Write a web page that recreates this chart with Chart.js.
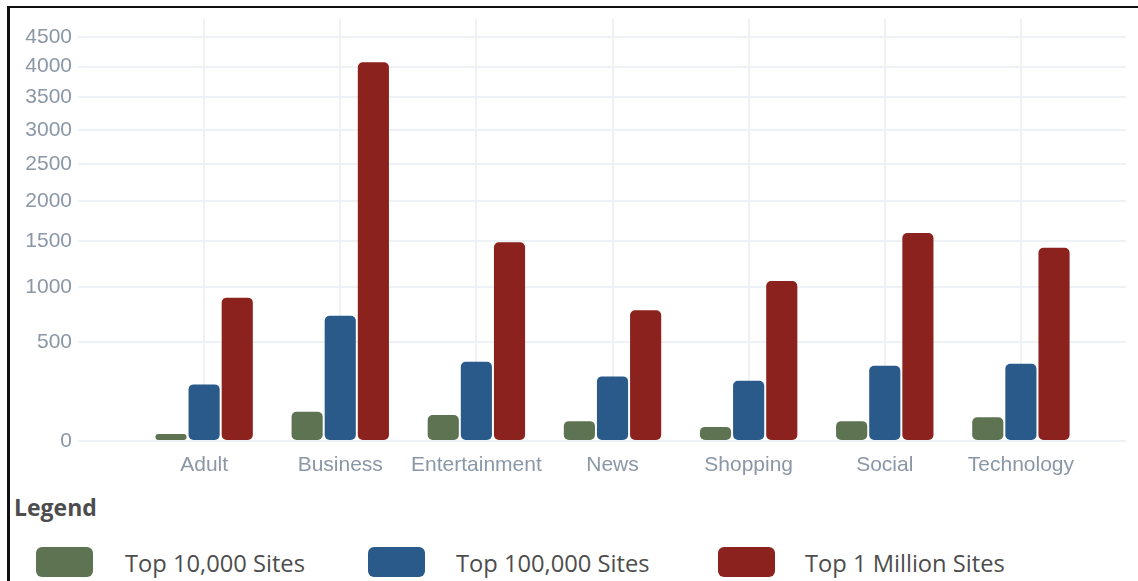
<!DOCTYPE html>
<html>
<head>
<meta charset="utf-8">
<script src="https://cdn.jsdelivr.net/npm/chart.js@4"></script>
<style>
    body { margin: 0; background: #fff; overflow: hidden; }
    #frame {
        position: absolute; left: 7px; top: 6px; width: 1128px; height: 620px;
        border-left: 3px solid #111; border-top: 2px solid #111; border-right: 1px solid #999;
    }
    #wrap { position: absolute; left: 0; top: 0; width: 1138px; height: 482px; }
    #legend-title {
        position: absolute; left: 14px; top: 491px;
        font: bold 23px "Open Sans", sans-serif; color: #4d4d4d;
    }
    .item { position: absolute; top: 547px; height: 30px; }
    .swatch { position: absolute; left: 0; top: 0; width: 57px; height: 30px; border-radius: 6px; }
    .label {
        position: absolute; top: 0; line-height: 32px; white-space: nowrap;
        font: 23.7px "Open Sans", sans-serif; color: #4d4d4d;
    }
</style>
</head>
<body>
<div id="frame"></div>
<div id="wrap"><canvas id="siteChart"></canvas></div>
<div id="legend-title">Legend</div>
<div id="legend"></div>

<script>
const categories = ["Adult", "Business", "Entertainment", "News", "Shopping", "Social", "Technology"];
const seriesNames = ["Top 10,000 Sites", "Top 100,000 Sites", "Top 1 Million Sites"];
const top10k = [8, 75, 62, 41, 24, 41, 54];
const top100k = [210, 724, 355, 258, 232, 327, 341];
const top1m = [895, 4075, 1490, 776, 1062, 1600, 1425];
const yTicks = [0, 500, 1000, 1500, 2000, 2500, 3000, 3500, 4000, 4500];

const colors = ["#5e7352", "#2a5a8a", "#8b221d"];
const EXP = 0.641;

// power scale so the small bars stay visible (the original axis is not linear)
class PowScale extends Chart.LinearScale {
    getPixelForValue(value) {
        const lo = Math.pow(Math.max(this.min, 0), EXP);
        const hi = Math.pow(this.max, EXP);
        const v = Math.pow(Math.max(value, 0), EXP);
        return this.getPixelForDecimal((v - lo) / (hi - lo));
    }
    getValueForPixel(pixel) {
        const lo = Math.pow(Math.max(this.min, 0), EXP);
        const hi = Math.pow(this.max, EXP);
        return Math.pow(lo + this.getDecimalForPixel(pixel) * (hi - lo), 1 / EXP);
    }
}
PowScale.id = "pow";
PowScale.defaults = Chart.LinearScale.defaults;
Chart.register(PowScale);

function toPoints(values) {
    return values.map((v, i) => ({ x: i, y: v }));
}

const allSeries = [top10k, top100k, top1m];

const datasets = allSeries.map((values, i) => ({
    label: seriesNames[i],
    data: toPoints(values),
    backgroundColor: colors[i],
    borderRadius: 5,
    borderSkipped: false,
    categoryPercentage: 0.73,
    barPercentage: 0.94
}));

const tickFont = { family: "'Liberation Sans', Arial, sans-serif", size: 21 };
const gridColor = "#eef1f5";

const ctx = document.getElementById("siteChart").getContext("2d");
const chart = new Chart(ctx, {
    type: "bar",
    data: { datasets: datasets },
    options: {
        responsive: true,
        maintainAspectRatio: false,
        animation: false,
        layout: { padding: { left: 0, right: 12, top: 15, bottom: 0 } },
        plugins: { legend: { display: false }, tooltip: { enabled: false } },
        scales: {
            x: {
                type: "linear",
                offset: false,
                min: -0.9265,
                max: 6.772,
                afterBuildTicks: (axis) => {
                    axis.ticks = categories.map((_, i) => ({ value: i }));
                },
                afterFit: (axis) => { axis.height = 41; },
                ticks: {
                    callback: (v) => categories[v],
                    font: tickFont,
                    color: "#8a97a6",
                    padding: 12,
                    maxRotation: 0,
                    autoSkip: false
                },
                grid: { offset: false, color: gridColor, lineWidth: 2, drawTicks: false },
                border: { display: false }
            },
            y: {
                type: "pow",
                min: 0,
                max: 4830,
                afterBuildTicks: (axis) => {
                    axis.ticks = yTicks.map(v => ({ value: v }));
                },
                afterFit: (axis) => { axis.width = 78; },
                ticks: {
                    callback: (v) => String(v),
                    font: tickFont,
                    color: "#8a97a6",
                    padding: 6
                },
                grid: { color: gridColor, lineWidth: 2, drawTicks: false },
                border: { display: false }
            }
        }
    }
});

// html legend under the chart
function buildLegend() {
    const legend = document.getElementById("legend");
    const lefts = [36, 368, 718];
    const textOffset = [89, 88, 87];
    chart.data.datasets.forEach((ds, i) => {
        const item = document.createElement("div");
        item.className = "item";
        item.style.left = lefts[i] + "px";
        item.innerHTML = `<div class="swatch" style="background:${ds.backgroundColor}"></div>
                          <div class="label" style="left:${textOffset[i]}px">${ds.label}</div>`;
        legend.appendChild(item);
    });
}

buildLegend();
</script>
</body>
</html>
